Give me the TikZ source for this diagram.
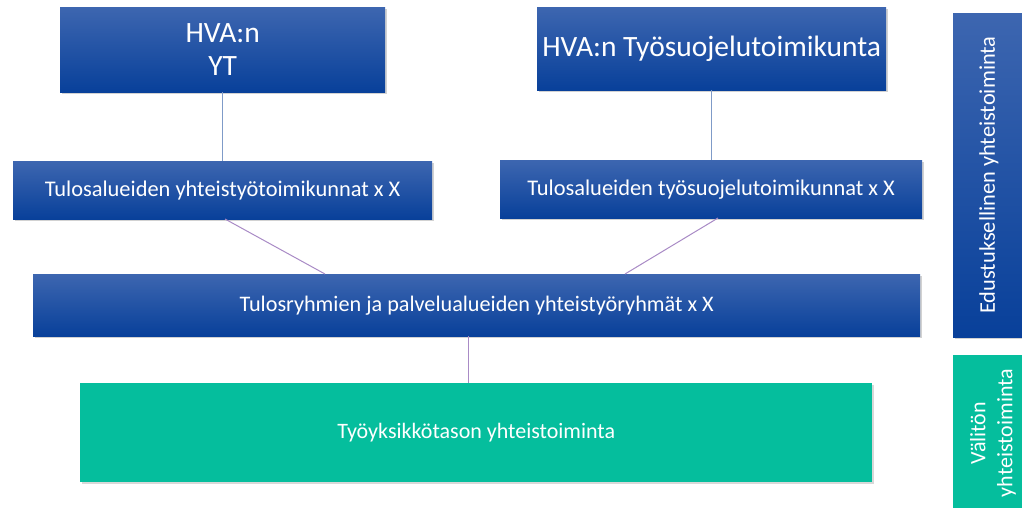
\documentclass[tikz,border=0pt]{standalone}
\usepackage{fontspec}
\setmainfont{Carlito}
\usetikzlibrary{shadows}
\definecolor{btop}{HTML}{3D66B0}
\definecolor{bbot}{HTML}{08409A}
\definecolor{teal}{HTML}{05BE9D}
\definecolor{lnblue}{HTML}{7F9BC8}
\definecolor{lnpurple}{HTML}{A98BC6}
\tikzset{
  bluebox/.style={rectangle, inner sep=0pt, top color=btop, bottom color=bbot,
    text=white, align=center, anchor=north west,
    drop shadow={opacity=0.35, shadow xshift=1.5pt, shadow yshift=-1.5pt}},
  tealbox/.style={rectangle, inner sep=0pt, fill=teal, text=white, align=center, anchor=north west,
    drop shadow={opacity=0.3, shadow xshift=1.5pt, shadow yshift=-1.5pt}},
  conblue/.style={draw=lnblue, line width=1pt},
  conpurple/.style={draw=lnpurple, line width=1pt},
}
\begin{document}
\begin{tikzpicture}[x=1pt,y=-1pt]
\useasboundingbox (0,0) rectangle (1022,508);
\fill[white] (0,0) rectangle (1022,508);
\node[bluebox, minimum width=325pt, minimum height=85pt, font=\fontsize{29.5}{33}\selectfont] (hva) at (60,7) {HVA:n\\YT};
\node[bluebox, minimum width=349pt, minimum height=83pt, font=\fontsize{29.5}{33}\selectfont] (hvats) at (537,7) {HVA:n Työsuojelutoimikunta};
\node[bluebox, minimum width=419pt, minimum height=58pt, font=\fontsize{22.4}{26}\selectfont] (tay) at (13,161) {Tulosalueiden yhteistyötoimikunnat x X};
\node[bluebox, minimum width=422pt, minimum height=58pt, font=\fontsize{22.4}{26}\selectfont] (tat) at (500,160) {Tulosalueiden työsuojelutoimikunnat x X};
\node[bluebox, minimum width=887pt, minimum height=62pt, font=\fontsize{22.2}{26}\selectfont] (tr) at (33,274) {Tulosryhmien ja palvelualueiden yhteistyöryhmät x X};
\node[tealbox, minimum width=792pt, minimum height=99pt, font=\fontsize{22}{26}\selectfont] (ty) at (80,383) {Työyksikkötason yhteistoiminta};
\node[bluebox, minimum width=69pt, minimum height=324pt] (ed) at (953,13) {};
\node[rotate=90, text=white, font=\fontsize{22.4}{26}\selectfont] (edt) at (989,175) {Edustuksellinen yhteistoiminta};
\node[tealbox, minimum width=69pt, minimum height=160pt] (va) at (953,355) {};
\node[rotate=90, text=white, align=center, font=\fontsize{22}{27}\selectfont] (vat) at (993,433) {Välitön\\yhteistoiminta};
\draw[conblue] (hva.south) ++(-0.5,0) coordinate (a1) -- (a1 |- tay.north);
\draw[conblue] (711.5,90) coordinate (a2) -- (a2 |- tat.north);
\coordinate (p1) at (225,219);
\coordinate (p2) at (325,274);
\coordinate (p3) at (718,218);
\coordinate (p4) at (625,274);
\draw[conpurple] (p1) -- (p2);
\draw[conpurple] (p3) -- (p4);
\draw[conpurple] (468,336) coordinate (c1) -- (c1 |- ty.north);
\end{tikzpicture}
\end{document}
